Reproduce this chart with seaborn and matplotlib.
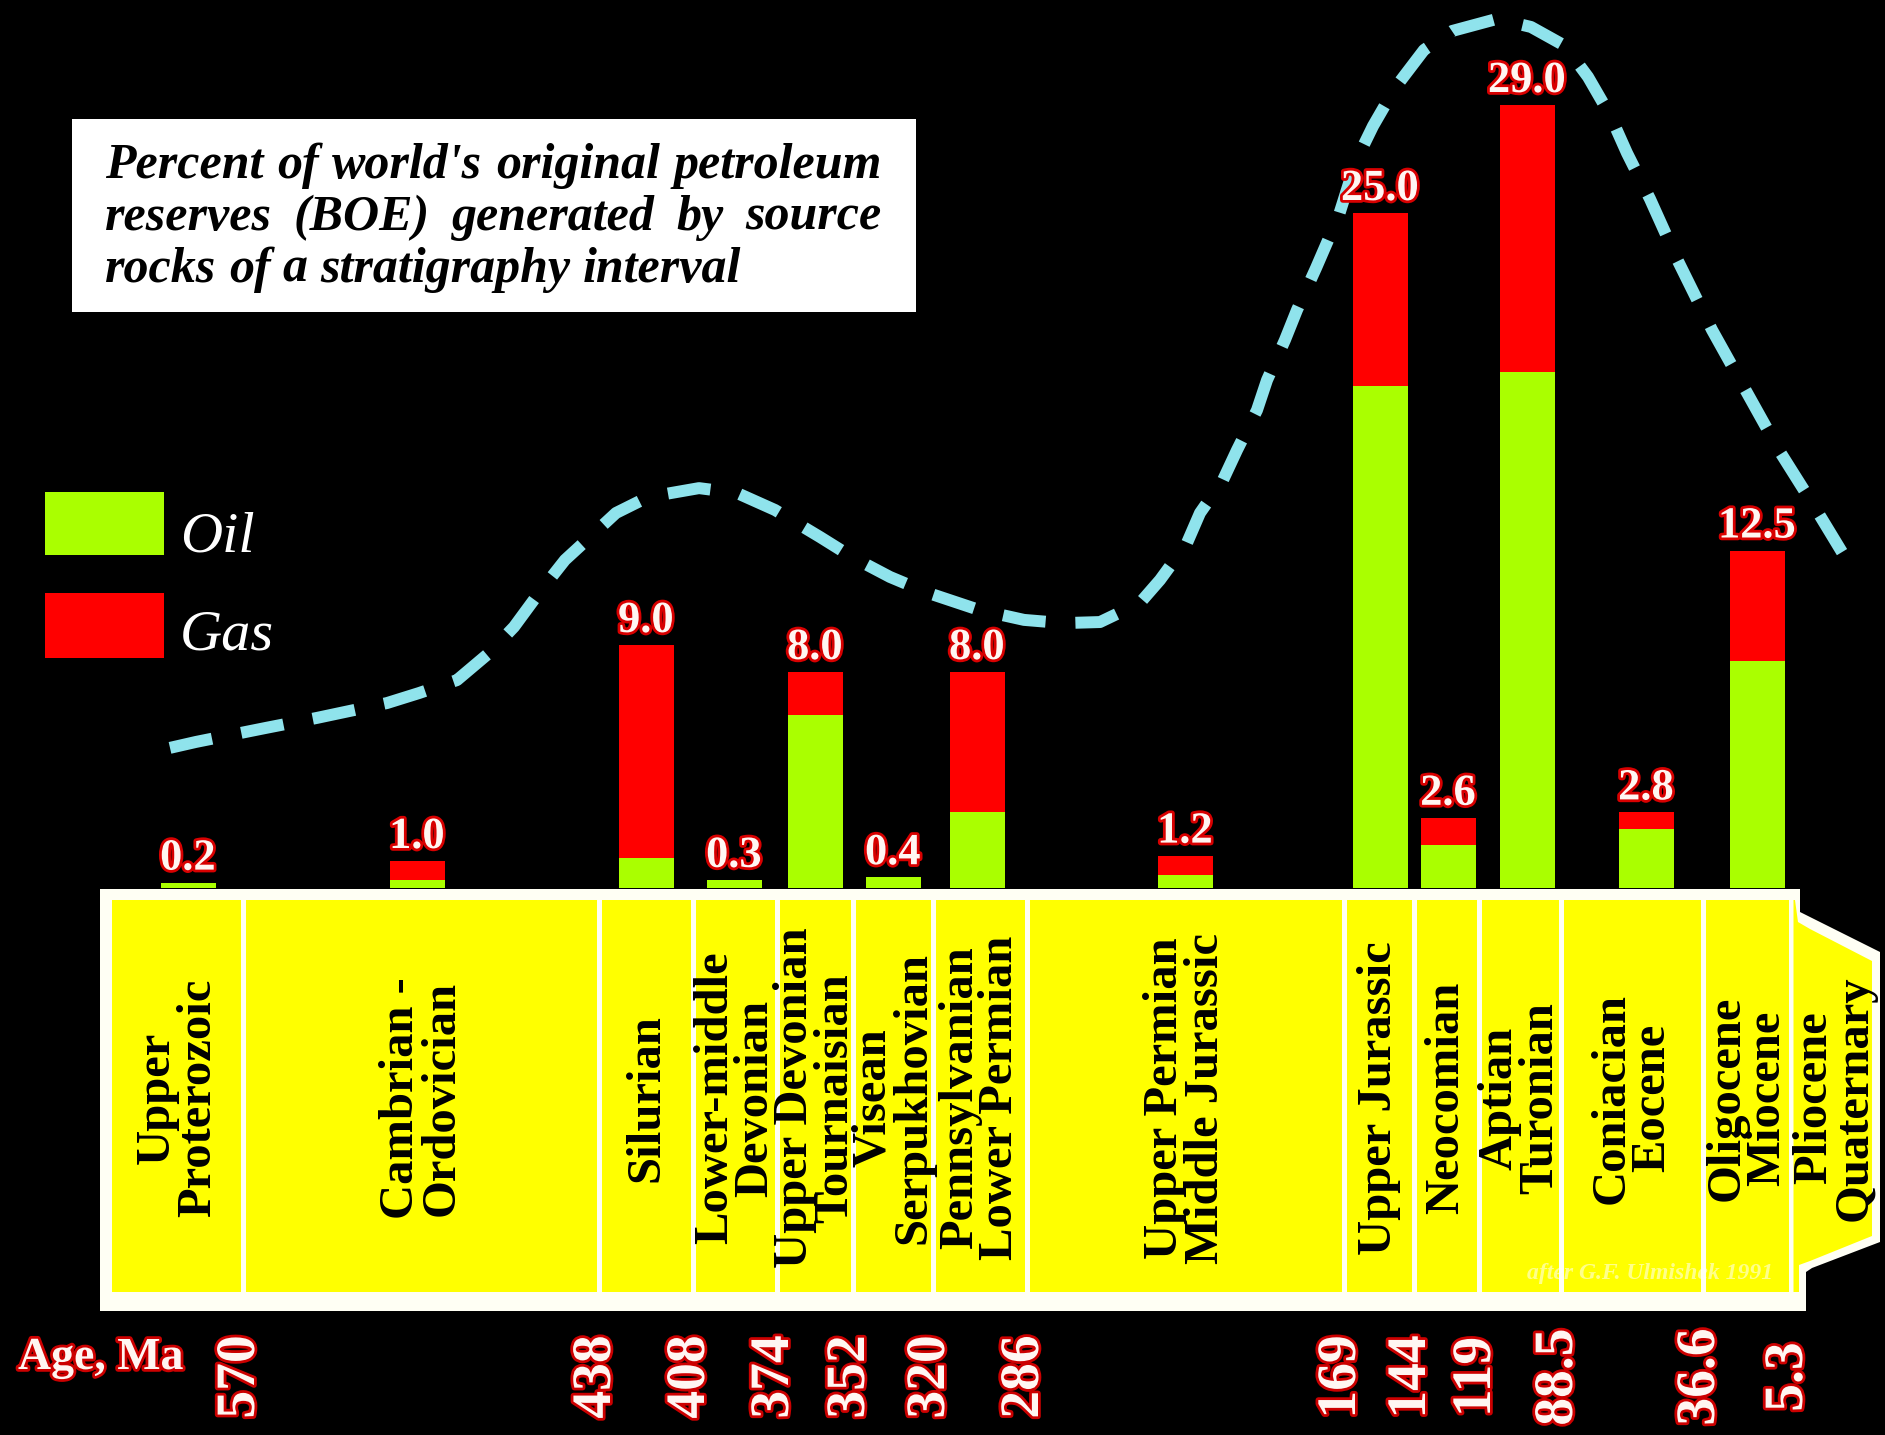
import matplotlib
matplotlib.use("Agg")
import matplotlib.pyplot as plt
import matplotlib.patheffects as pe
from matplotlib.patches import Rectangle, Polygon
import seaborn as sns

# ---------------- data ----------------
intervals = [
    "Upper\nProterozoic", "Cambrian -\nOrdovician", "Silurian",
    "Lower-middle\nDevonian", "Upper Devonian\nTournaisian",
    "Visean\nSerpukhovian", "Pennsylvanian\nLower Permian",
    "Upper Permian\nMiddle Jurassic", "Upper Jurassic", "Neocomian",
    "Aptian\nTuronian", "Coniacian\nEocene", "Oligocene\nMiocene",
]
youngest_interval = "Pliocene\nQuaternary"

# percent of world's original reserves (BOE) per interval
total_pct = [0.2, 1.0, 9.0, 0.3, 8.0, 0.4, 8.0, 1.2, 25.0, 2.6, 29.0, 2.8, 12.5]
oil_pct = [0.2, 0.3, 1.1, 0.3, 6.4, 0.4, 2.8, 0.5, 18.6, 1.6, 19.1, 2.2, 8.4]

# interval boundary ages, Ma
age_labels = ["570", "438", "408", "374", "352", "320", "286",
              "169", "144", "119", "88.5", "36.6", "5.3"]

# generalized trend envelope (percent level)
trend_level = [5.19, 5.41, 5.93, 6.30, 6.85, 7.22, 7.70, 8.70, 9.67, 10.93,
               12.15, 13.00, 13.89, 14.48, 14.81, 14.63, 14.00, 13.00, 12.26,
               11.52, 10.93, 10.30, 9.93, 9.81, 9.85, 10.56, 11.41, 12.78,
               13.89, 15.11, 16.22, 17.70, 18.81, 20.30, 21.41, 22.96, 24.93,
               26.93, 28.22, 29.63, 31.04, 31.74, 32.19, 31.89, 31.19, 30.04,
               28.63, 27.22, 25.52, 23.22, 20.67, 18.41, 16.15, 14.15, 12.44]

# ---------------- layout (pixels) ----------------
W, H = 1885, 1435
BASE = 888            # pixel row of the 0 % line
PX_PER_PCT = 27.0
col_edges = [112, 243, 599, 693, 777, 853, 933, 1027, 1344, 1414, 1479,
             1561, 1703, 1791]
bar_x = [188, 417, 646, 734, 815, 893, 977, 1185, 1380, 1448, 1527, 1646, 1757]
trend_x = [170, 196, 266, 317, 387, 419, 457, 489, 514, 539, 565, 590, 616,
           648, 699, 737, 775, 820, 852, 890, 928, 979, 1024, 1063, 1100,
           1140, 1160, 1187, 1200, 1223, 1237, 1257, 1267, 1285, 1297, 1316,
           1339, 1356, 1373, 1395, 1424, 1452, 1497, 1531, 1565, 1588, 1610,
           1627, 1650, 1678, 1712, 1746, 1780, 1814, 1842]
BAR_PX = 55

GREEN = "#aaff00"
RED = "#ff0000"
YELLOW = "#ffff00"
CYAN = "#8fe3ec"
BOX_WHITE = "#fffff4"
SERIF = "Liberation Serif"

sns.set_theme(style="white")
plt.rcParams["font.family"] = [SERIF, "DejaVu Serif"]

fig = plt.figure(figsize=(W / 100, H / 100), dpi=100, facecolor="black")

# layout axes in pixel units (origin top-left)
lay = fig.add_axes([0, 0, 1, 1], zorder=1)
lay.set_xlim(0, W)
lay.set_ylim(H, 0)
lay.axis("off")

# data axes: same x pixels, y in percent
ax = fig.add_axes([0, 0, 1, 1], zorder=2)
ax.patch.set_alpha(0)

# ---------------- bars ----------------
min_gap = min(b - a for a, b in zip(sorted(bar_x), sorted(bar_x)[1:]))
bar_w = BAR_PX / min_gap
sns.barplot(x=bar_x, y=total_pct, native_scale=True, orient="x", color=RED,
            saturation=1, errorbar=None, width=bar_w, linewidth=0, ax=ax)
sns.barplot(x=bar_x, y=oil_pct, native_scale=True, orient="x", color=GREEN,
            saturation=1, errorbar=None, width=bar_w, linewidth=0, ax=ax)

# trend curve
sns.lineplot(x=trend_x, y=trend_level, sort=False, estimator=None,
             errorbar=None, color=CYAN, linewidth=8.6,
             linestyle=(0, (3.6, 2.5)), ax=ax, zorder=3)

# value labels
glow = [pe.withStroke(linewidth=4, foreground="#d80000")]
for xb, v in zip(bar_x, total_pct):
    ax.text(xb, v + 13 / PX_PER_PCT, f"{v:.1f}", ha="center", va="baseline",
            fontsize=32, fontweight="bold", color="#fff6f2",
            path_effects=glow, zorder=5)

ax.set_xlim(0, W)
ax.set_ylim(-(H - BASE) / PX_PER_PCT, BASE / PX_PER_PCT)
ax.axis("off")

# ---------------- stratigraphic column ----------------
lay.add_patch(Rectangle((100, 889), 1700, 422, facecolor=BOX_WHITE,
                        edgecolor="none", zorder=1))
# protruding youngest cell
lay.add_patch(Polygon([(1790, 889), (1800, 889), (1800, 912), (1812, 918),
                       (1880, 952), (1880, 1242), (1812, 1268), (1806, 1272),
                       (1806, 1311), (1790, 1311)],
                      closed=True, facecolor=BOX_WHITE, edgecolor="none",
                      zorder=1))
for i in range(len(col_edges) - 1):
    x0 = col_edges[i] + (0 if i == 0 else 2.5)
    x1 = col_edges[i + 1] - 2.5
    lay.add_patch(Rectangle((x0, 900), x1 - x0, 392, facecolor=YELLOW,
                            edgecolor="none", zorder=2))
lay.add_patch(Polygon([(1793.5, 900), (1795, 900), (1798, 922), (1810, 929),
                       (1872, 961), (1872, 1236), (1810, 1261), (1799, 1265),
                       (1799, 1292), (1793.5, 1292)],
                      closed=True, facecolor=YELLOW, edgecolor="none",
                      zorder=2))

label_kw = dict(rotation=90, ha="center", va="center", multialignment="center",
                fontsize=35, fontweight="bold", color="black",
                linespacing=0.9, zorder=4)
for i, name in enumerate(intervals):
    cx = (col_edges[i] + col_edges[i + 1]) / 2
    lay.text(cx, 1098, name, **label_kw)
lay.text(1834, 1098, youngest_interval, **label_kw)

lay.text(1650, 1273, "after G.F. Ulmishek 1991", ha="center", va="center",
         fontsize=17, fontstyle="italic", fontweight="bold", color="white",
         alpha=0.55, zorder=4)

# ---------------- ages ----------------
age_glow = [pe.withStroke(linewidth=4, foreground="#cc0000")]
lay.text(18, 1369, "Age, Ma", ha="left", va="baseline", fontsize=33,
         fontweight="bold", color="#fff6f2", path_effects=age_glow, zorder=4)
for xe, a in zip(col_edges[1:], age_labels):
    lay.text(xe - 3, 1377, a, rotation=90, ha="center", va="center",
             fontsize=40, fontweight="bold", color="#fff6f2",
             path_effects=age_glow, zorder=4)

# ---------------- legend ----------------
lay.add_patch(Rectangle((45, 492), 119, 63, facecolor=GREEN, edgecolor="none"))
lay.add_patch(Rectangle((45, 593), 119, 65, facecolor=RED, edgecolor="none"))
lay.text(180, 552, "Oil", fontsize=42, fontstyle="italic", color="white",
         va="baseline", ha="left")
lay.text(180, 650, "Gas", fontsize=42, fontstyle="italic", color="white",
         va="baseline", ha="left")

# ---------------- caption box ----------------
lay.add_patch(Rectangle((72, 119), 844, 193, facecolor="white",
                        edgecolor="none", zorder=1))
caption = ["Percent of world's original petroleum",
           "reserves (BOE) generated by source",
           "rocks of a stratigraphy interval"]
cap_kw = dict(fontsize=36, fontweight="bold", fontstyle="italic",
              color="black", va="baseline", ha="left", zorder=3)
renderer = fig.canvas.get_renderer()
x_left, x_right = 105, 882
for k, (line, base_y) in enumerate(zip(caption, [178, 230, 282])):
    words = line.split()
    arts = [lay.text(0, base_y, w, **cap_kw) for w in words]
    widths = [a.get_window_extent(renderer=renderer).width for a in arts]
    if k < len(caption) - 1:
        gap = (x_right - x_left - sum(widths)) / (len(words) - 1)
    else:
        gap = 0.25 * cap_kw["fontsize"] * 100 / 72
    x = x_left
    for a, wd in zip(arts, widths):
        a.set_x(x)
        x += wd + gap

fig.savefig("out.png", dpi=100, facecolor="black")
